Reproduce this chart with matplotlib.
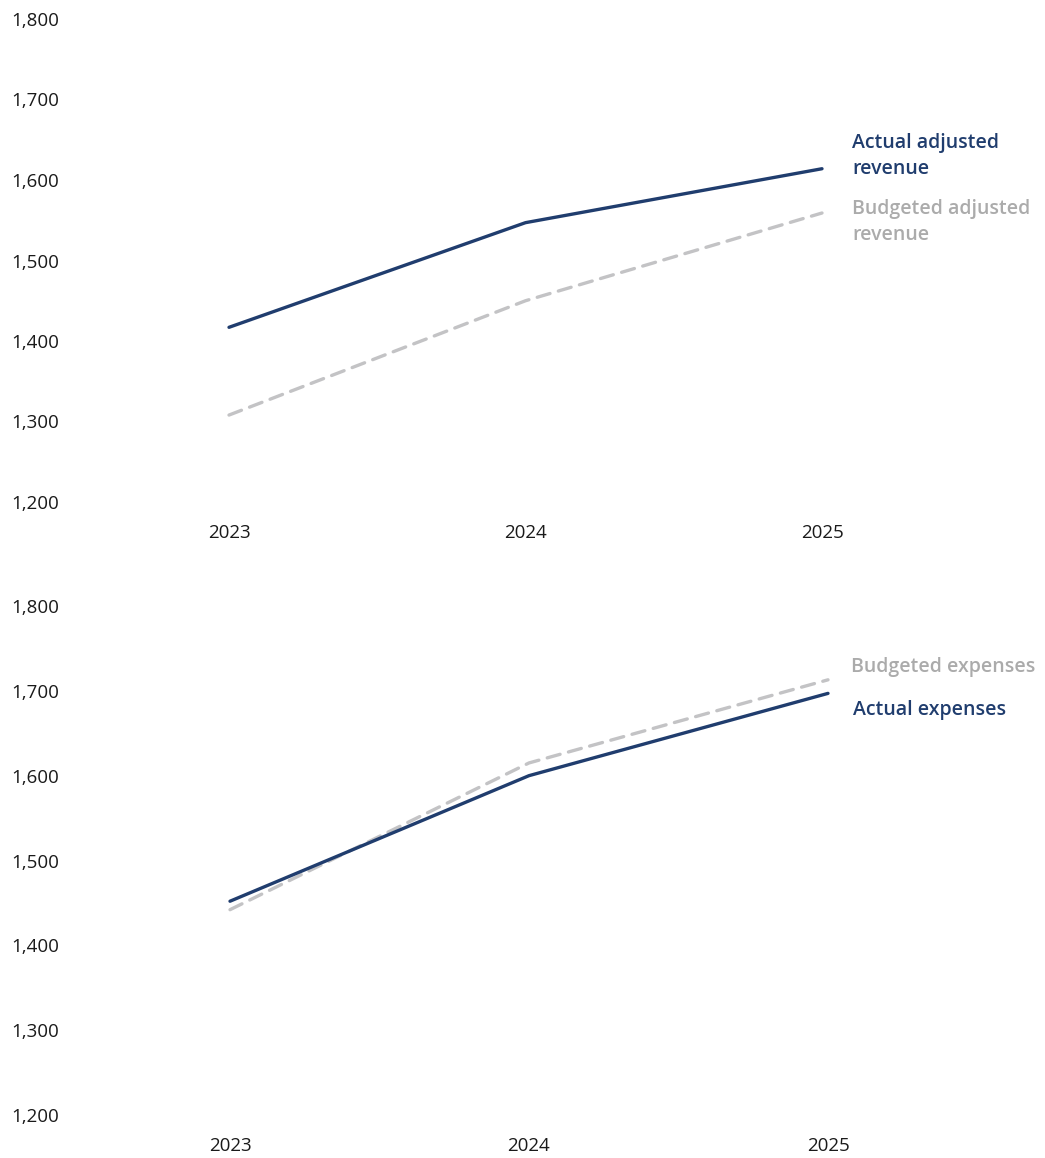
import matplotlib.pyplot as plt

# data
years = ["2023", "2024", "2025"]
actual_revenue = [1417, 1547, 1614]
budget_revenue = [1308, 1450, 1559]
actual_expenses = [1452, 1600, 1697]
budget_expenses = [1442, 1615, 1713]
y_ticks = [1200, 1300, 1400, 1500, 1600, 1700, 1800]

NAVY = "#203d6e"
GRAY_LINE = "#c3c3c5"
GRAY_TEXT = "#ababab"
FONT = ["Open Sans", "DejaVu Sans"]

plt.rcParams['font.family'] = FONT

W, H = 1045, 1158
fig = plt.figure(figsize=(W / 100, H / 100), dpi=100)


def make_axes(left_px, right_px, top_px, bottom_px):
    return fig.add_axes([left_px / W, 1 - bottom_px / H,
                         (right_px - left_px) / W, (bottom_px - top_px) / H])


def style_axes(ax, left_px):
    x = range(len(years))
    ax.set_xlim(0, len(years) - 1)
    ax.set_ylim(y_ticks[0], y_ticks[-1])
    ax.set_xticks(list(x))
    ax.set_xticklabels(years)
    ax.set_yticks(y_ticks)
    ax.set_yticklabels([f"{v:,}" for v in y_ticks])
    for s in ax.spines.values():
        s.set_visible(False)
    ax.tick_params(axis="both", length=0, labelsize=13.5, colors="#1a1a1a")
    ax.tick_params(axis="y", pad=(left_px - 11) * 0.72)
    ax.tick_params(axis="x", pad=16)
    for lab in ax.get_yticklabels():
        lab.set_horizontalalignment("left")


def draw(ax, actual, budget):
    x = range(len(years))
    ax.plot(x, budget, color=GRAY_LINE, lw=2.4, ls=(0, (4, 2.6)),
            clip_on=False, solid_capstyle="round", dash_capstyle="round")
    ax.plot(x, actual, color=NAVY, lw=2.4, clip_on=False,
            solid_capstyle="round")


def label(ax, y, text, color, dx, dy):
    ax.annotate(text, xy=(len(years) - 1, y), xytext=(dx, dy),
                textcoords="offset pixels", color=color, fontsize=14,
                fontweight="semibold", ha="left", va="center",
                linespacing=1.42)


# top: revenue
ax1 = make_axes(229, 822, 19, 502)
style_axes(ax1, 229)
draw(ax1, actual_revenue, budget_revenue)
label(ax1, actual_revenue[-1], "Actual adjusted\nrevenue", NAVY, 30, 13)
label(ax1, budget_revenue[-1], "Budgeted adjusted\nrevenue", GRAY_TEXT, 30, -9)

# bottom: expenses
ax2 = make_axes(230, 828, 606, 1115)
style_axes(ax2, 230)
draw(ax2, actual_expenses, budget_expenses)
label(ax2, budget_expenses[-1], "Budgeted expenses", GRAY_TEXT, 23, 13)
label(ax2, actual_expenses[-1], "Actual expenses", NAVY, 25, -17)

fig.savefig("out.png", dpi=100)
